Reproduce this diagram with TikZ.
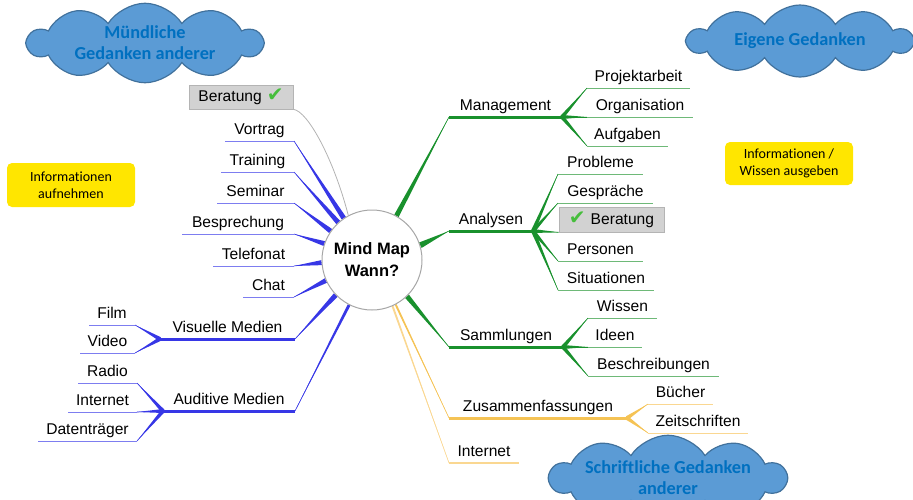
\documentclass[tikz,border=0pt]{standalone}
\usepackage{fontspec}
\setmainfont{Liberation Sans}
\newfontfamily\calibri[Ligatures=NoCommon]{Carlito}
\newfontfamily\dejavu{DejaVu Sans}
\usetikzlibrary{calc,shapes.symbols,backgrounds}
\definecolor{bstrong}{RGB}{55,55,230}
\definecolor{blight}{RGB}{125,125,240}
\definecolor{gstrong}{RGB}{25,145,45}
\definecolor{glight}{RGB}{110,185,120}
\definecolor{ostrong}{RGB}{245,195,85}
\definecolor{olight}{RGB}{250,215,145}
\definecolor{cloudfill}{RGB}{91,155,213}
\definecolor{cloudline}{RGB}{65,113,156}
\definecolor{cloudtext}{RGB}{0,112,192}
\definecolor{notecol}{RGB}{255,230,0}
\definecolor{boxgray}{RGB}{210,210,210}
\definecolor{boxline}{RGB}{180,180,180}
\definecolor{tickcol}{RGB}{70,190,60}
% leaf: name, x1, x2, y, text, line style
\newcommand\leaf[6]{%
  \coordinate (#1-l) at (#2,#4);
  \coordinate (#1-r) at (#3,#4);
  \draw[#6] (#1-l) -- (#1-r);
  \node[lbl] (#1) at ({(#2+#3)/2},{#4-7}) {#5};
}
% taper: style, thin end, thick end, half width
\newcommand\taper[4]{%
  \fill[#1] (#2) -- ($(#3)!#4!90:(#2)$) -- ($(#3)!#4!-90:(#2)$) -- cycle;
  \draw[#1, line width=0.6pt] (#2) -- (#3);
}
\begin{document}
\begin{tikzpicture}[x=1pt,y=-1pt,
  lbl/.style={anchor=base, inner sep=0pt, font=\fontsize{15.6}{18}\selectfont},
  bl/.style={draw=blight, line width=1pt},
  bs/.style={draw=bstrong, line width=3pt},
  gl/.style={draw=glight, line width=1pt},
  gs/.style={draw=gstrong, line width=3pt},
  ol/.style={draw=olight, line width=1pt},
  os/.style={draw=ostrong, line width=3pt},
  ob/.style={draw=olight, line width=1.5pt},
  cloudbox/.style={cloud, cloud puffs=10, cloud puff arc=115, cloud ignores aspect,
    draw=cloudline, fill=cloudfill, line width=1.2pt, inner sep=0pt, align=center,
    text=cloudtext, font=\calibri\bfseries\fontsize{18.3}{21}\selectfont},
  notebox/.style={fill=notecol, rounded corners=5pt, inner sep=0pt, align=center,
    font=\calibri\fontsize{14}{16.5}\selectfont},
  graybox/.style={fill=boxgray, draw=boxline, line width=0.6pt, inner sep=0pt,
    font=\fontsize{15.6}{18}\selectfont},
  tick/.style={},
  hubstyle/.style={circle, draw=gray!70, fill=white, line width=1pt, minimum size=100pt,
    inner sep=0pt, align=center, font=\bfseries\fontsize{16.5}{22}\selectfont}
]
\useasboundingbox (0,0) rectangle (913,499);
\clip (0,0) rectangle (913,499);

% hub
\node[hubstyle] (hub) at (372,260) {Mind Map\\Wann?};

% left leaves
\leaf{vortrag}{225}{294}{141}{Vortrag}{bl}
\leaf{training}{221}{294}{172}{Training}{bl}
\leaf{seminar}{217}{294}{203}{Seminar}{bl}
\leaf{besprechung}{182}{294}{234}{Besprechung}{bl}
\leaf{telefonat}{213}{294}{266}{Telefonat}{bl}
\leaf{chat}{243}{294}{297}{Chat}{bl}
\leaf{visuell}{160}{295}{339}{Visuelle Medien}{bs}
\leaf{film}{89}{135}{325}{Film}{bl}
\leaf{video}{80}{135}{353}{Video}{bl}
\leaf{auditiv}{163}{295}{411}{Auditive Medien}{bs}
\leaf{radio}{78}{137}{383}{Radio}{bl}
\leaf{inetL}{68}{137}{412}{Internet}{bl}
\leaf{daten}{38}{137}{441}{Datenträger}{bl}
\node[graybox, minimum width=104pt, minimum height=24pt] (beratL) at (241,97)
  {Beratung\hspace{5pt}{\dejavu\color{tickcol}\fontsize{20}{18}\selectfont ✔}};

% right leaves
\leaf{management}{449}{562}{117}{Management}{gs}
\leaf{projekt}{587}{690}{88}{Projektarbeit}{gl}
\leaf{organisation}{587}{693}{117}{Organisation}{gl}
\leaf{aufgaben}{587}{668}{146}{Aufgaben}{gl}
\leaf{analysen}{449}{533}{231}{Analysen}{gs}
\leaf{probleme}{558}{643}{174}{Probleme}{gl}
\leaf{gespraeche}{558}{653}{203}{Gespräche}{gl}
\node[graybox, minimum width=105pt, minimum height=25pt] (beratR) at (611.5,219.5)
  {{\dejavu\color{tickcol}\fontsize{20}{18}\selectfont ✔}\hspace{5pt}Beratung};
\leaf{personen}{558}{643}{261}{Personen}{gl}
\leaf{situationen}{558}{654}{290}{Situationen}{gl}
\leaf{sammlungen}{449}{563}{347}{Sammlungen}{gs}
\leaf{wissen}{588}{657}{318}{Wissen}{gl}
\leaf{ideen}{588}{642}{347}{Ideen}{gl}
\leaf{beschreib}{588}{719}{376}{Beschreibungen}{gl}
\leaf{zusammen}{449}{627}{418}{Zusammenfassungen}{os}
\leaf{buecher}{648}{713}{404}{Bücher}{ol}
\leaf{zeitschr}{648}{748}{433}{Zeitschriften}{ol}
\leaf{inetR}{449}{519}{463}{Internet}{ob}

\begin{scope}[on background layer]
% connectors to hub, left
\draw[gray!60, line width=0.8pt] (beratL.south east) .. controls (308,111) and (334,160) .. (hub.118);
\taper{bstrong}{vortrag-r}{hub.124}{2.5pt}
\taper{bstrong}{training-r}{hub.132}{2.5pt}
\taper{bstrong}{seminar-r}{hub.145}{2.5pt}
\taper{bstrong}{besprechung-r}{hub.161}{2.5pt}
\taper{bstrong}{telefonat-r}{hub.183}{2.5pt}
\taper{bstrong}{chat-r}{hub.204}{2.5pt}
\taper{bstrong}{visuell-r}{hub.224}{2.5pt}
\taper{bstrong}{auditiv-r}{hub.243}{1.5pt}
% forks left
\taper{bstrong}{film-r}{visuell-l}{2pt}
\taper{bstrong}{video-r}{visuell-l}{2pt}
\taper{bstrong}{radio-r}{auditiv-l}{2pt}
\taper{bstrong}{inetL-r}{auditiv-l}{2pt}
\taper{bstrong}{daten-r}{auditiv-l}{2pt}
% connectors to hub, right
\taper{gstrong}{management-l}{hub.61}{2.5pt}
\taper{gstrong}{analysen-l}{hub.17}{3pt}
\taper{gstrong}{sammlungen-l}{hub.-46}{2.5pt}
\taper{ostrong}{zusammen-l}{hub.-62}{1pt}
\taper{olight}{inetR-l}{hub.-66}{1pt}
% forks right
\taper{gstrong}{projekt-l}{management-r}{2pt}
\taper{gstrong}{organisation-l}{management-r}{2pt}
\taper{gstrong}{aufgaben-l}{management-r}{2pt}
\taper{gstrong}{probleme-l}{analysen-r}{2pt}
\taper{gstrong}{gespraeche-l}{analysen-r}{2pt}
\taper{gstrong}{beratR.south west}{analysen-r}{2pt}
\taper{gstrong}{personen-l}{analysen-r}{2pt}
\taper{gstrong}{situationen-l}{analysen-r}{2pt}
\taper{gstrong}{wissen-l}{sammlungen-r}{2pt}
\taper{gstrong}{ideen-l}{sammlungen-r}{2pt}
\taper{gstrong}{beschreib-l}{sammlungen-r}{2pt}
\taper{ostrong}{buecher-l}{zusammen-r}{2pt}
\taper{ostrong}{zeitschr-l}{zusammen-r}{2pt}
\end{scope}

% clouds
\node[cloudbox, minimum width=234pt, minimum height=70pt] (c1) at (145,43)
  {Mündliche\\Gedanken anderer};
\node[cloudbox, minimum width=224pt, minimum height=72pt] (c2) at (800,41)
  {Eigene Gedanken};
\node[cloudbox, minimum width=236pt, minimum height=72pt] (c3) at (668,478)
  {Schriftliche Gedanken\\anderer};

% notes
\node[notebox, minimum width=128pt, minimum height=44pt] (n1) at (71,185)
  {Informationen\\aufnehmen};
\node[notebox, minimum width=128pt, minimum height=43pt] (n2) at (789,163.5)
  {Informationen /\\Wissen ausgeben};
\end{tikzpicture}
\end{document}
